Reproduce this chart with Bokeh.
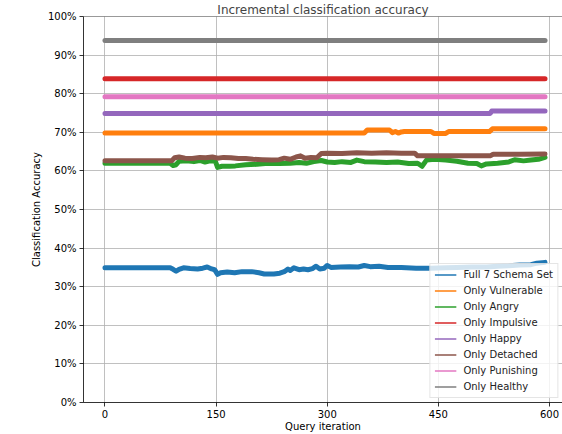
from bokeh.plotting import figure
from bokeh.models import FixedTicker, PrintfTickFormatter, Span, Legend, LegendItem, ColumnDataSource
from bokeh.embed import file_html
from bokeh.resources import INLINE

# ---------------- data ----------------
full_x = [0, 88, 92, 96, 100, 106, 115, 125, 132, 138, 144, 148, 152, 156, 165, 175, 185, 198, 208, 215,
          228, 236, 242, 247, 250, 255, 262, 268, 274, 280, 285, 290, 296, 300, 305, 318, 330, 342, 350,
          358, 370, 382, 400, 420, 440, 460, 475, 495, 515, 530, 545, 560, 575, 583, 594]
full_y = [34.9, 34.9, 34.5, 34.0, 34.5, 34.9, 34.7, 34.6, 34.8, 35.1, 34.6, 34.4, 33.2, 33.6, 33.8, 33.6,
          33.9, 33.9, 33.6, 33.3, 33.3, 33.5, 33.9, 34.6, 34.2, 34.9, 34.4, 34.6, 34.4, 34.7, 35.3, 34.6,
          34.8, 35.5, 35.0, 35.1, 35.2, 35.1, 35.5, 35.2, 35.3, 35.0, 35.0, 34.8, 34.8, 34.9, 35.0, 35.1,
          35.1, 35.3, 35.4, 35.6, 35.7, 36.1, 36.3]

vuln_x = [0, 350, 354, 384, 388, 392, 396, 400, 404, 440, 444, 460, 464, 519, 523, 594]
vuln_y = [69.8, 69.8, 70.6, 70.6, 69.9, 70.2, 69.8, 70.1, 70.2, 70.2, 69.7, 69.7, 70.2, 70.2, 70.9, 70.9]

angry_x = [0, 88, 92, 96, 100, 110, 120, 128, 135, 142, 149, 152, 158, 168, 176, 190, 205, 220, 235, 250,
           262, 272, 282, 292, 300, 310, 320, 332, 340, 350, 365, 380, 395, 410, 422, 428, 434, 445, 460,
           475, 490, 502, 508, 515, 530, 545, 553, 565, 575, 585, 594]
angry_y = [62.0, 62.0, 61.4, 61.6, 62.5, 62.6, 62.4, 62.7, 62.3, 62.6, 62.5, 60.9, 61.2, 61.2, 61.3, 61.6,
           61.7, 62.0, 61.9, 62.0, 62.2, 62.0, 62.4, 62.7, 62.3, 62.2, 62.4, 62.2, 62.8, 62.4, 62.3, 62.2,
           62.3, 61.9, 62.0, 61.2, 62.8, 63.0, 62.8, 62.5, 62.0, 61.9, 61.3, 61.8, 62.0, 62.3, 62.9, 62.6,
           62.8, 63.0, 63.5]

impulsive_x = [0, 594]
impulsive_y = [83.9, 83.9]

happy_x = [0, 520, 522, 594]
happy_y = [74.9, 74.9, 75.5, 75.5]

detached_x = [0, 90, 94, 100, 108, 118, 128, 136, 145, 152, 160, 170, 180, 190, 200, 212, 225, 235, 242,
              250, 258, 264, 270, 278, 286, 292, 300, 320, 340, 360, 380, 400, 418, 422, 450, 480, 520,
              524, 560, 594]
detached_y = [62.6, 62.6, 63.4, 63.6, 63.3, 63.2, 63.5, 63.4, 63.6, 63.3, 63.5, 63.4, 63.2, 63.2, 63.0,
              62.9, 62.8, 62.9, 63.3, 63.0, 63.6, 63.9, 63.3, 63.5, 63.4, 64.5, 64.6, 64.5, 64.7, 64.6,
              64.7, 64.6, 64.6, 63.9, 63.9, 63.9, 63.9, 64.3, 64.3, 64.4]

punishing_x = [0, 594]
punishing_y = [79.2, 79.2]

healthy_x = [0, 594]
healthy_y = [93.8, 93.8]

series_names = ["Full 7 Schema Set", "Only Vulnerable", "Only Angry", "Only Impulsive",
                "Only Happy", "Only Detached", "Only Punishing", "Only Healthy"]
series_x = [full_x, vuln_x, angry_x, impulsive_x, happy_x, detached_x, punishing_x, healthy_x]
series_y = [full_y, vuln_y, angry_y, impulsive_y, happy_y, detached_y, punishing_y, healthy_y]
colors = ["#1f77b4", "#ff7f0e", "#2ca02c", "#d62728", "#9467bd", "#8c564b", "#e377c2", "#7f7f7f"]

x_ticks = [0, 150, 300, 450, 600]
y_ticks = [0, 10, 20, 30, 40, 50, 60, 70, 80, 90, 100]

FONT = "DejaVu Sans"

p = figure(width=562, height=434, output_backend="svg", toolbar_location=None,
           x_range=(-29.0, 617.6), y_range=(0, 100),
           title="Incremental classification accuracy",
           min_border_left=83, min_border_right=0, min_border_top=0, min_border_bottom=0)

p.title.text_font = FONT
p.title.text_font_size = "12px"
p.title.text_font_style = "normal"
p.title.align = "center"
p.title.standoff = 0
p.title.offset = 0

p.outline_line_color = None
p.background_fill_color = "white"
p.border_fill_color = "white"

for ax in (p.xaxis[0], p.yaxis[0]):
    ax.axis_line_color = "black"
    ax.axis_line_width = 0.8
    ax.major_tick_line_color = "black"
    ax.major_tick_line_width = 0.8
    ax.major_tick_out = 4
    ax.major_tick_in = 0
    ax.minor_tick_line_color = None
    ax.major_label_text_font = FONT
    ax.major_label_text_font_size = "10px"
    ax.major_label_text_color = "black"
    ax.axis_label_text_font = FONT
    ax.axis_label_text_font_size = "10px"
    ax.axis_label_text_font_style = "normal"
    ax.axis_label_text_color = "black"
    ax.major_label_standoff = 3
    ax.axis_label_standoff = 0

p.xaxis.ticker = FixedTicker(ticks=x_ticks)
p.yaxis.ticker = FixedTicker(ticks=y_ticks)
p.yaxis.formatter = PrintfTickFormatter(format="%d%%")
p.xaxis.axis_label = "Query iteration"
p.yaxis.axis_label = "Classification Accuracy"
p.yaxis.axis_label_standoff = 3

p.grid.grid_line_color = "#b0b0b0"
p.grid.grid_line_width = 0.8

p.add_layout(Span(location=100, dimension="width", line_color="black", line_width=0.8))

items = []
for name, xs, ys, c in zip(series_names, series_x, series_y, colors):
    src = ColumnDataSource(data=dict(x=xs, y=ys))
    p.line("x", "y", source=src, line_color=c, line_width=5, line_cap="round", line_join="round")
    thin = p.line("x", "y", source=src, line_color=c, line_width=1.5)
    items.append(LegendItem(label=name, renderers=[thin]))

legend = Legend(items=items, location="bottom_right")
legend.label_text_font = FONT
legend.label_text_font_size = "10px"
legend.label_text_color = "#222222"
legend.label_height = 13
legend.glyph_height = 13
legend.glyph_width = 22
legend.spacing = 3
legend.padding = 4
legend.margin = 4
legend.label_standoff = 7
legend.border_line_color = "#cccccc"
legend.border_line_width = 1
legend.background_fill_alpha = 0.8
p.add_layout(legend)

open("out.html", "w").write(file_html(p, INLINE))
